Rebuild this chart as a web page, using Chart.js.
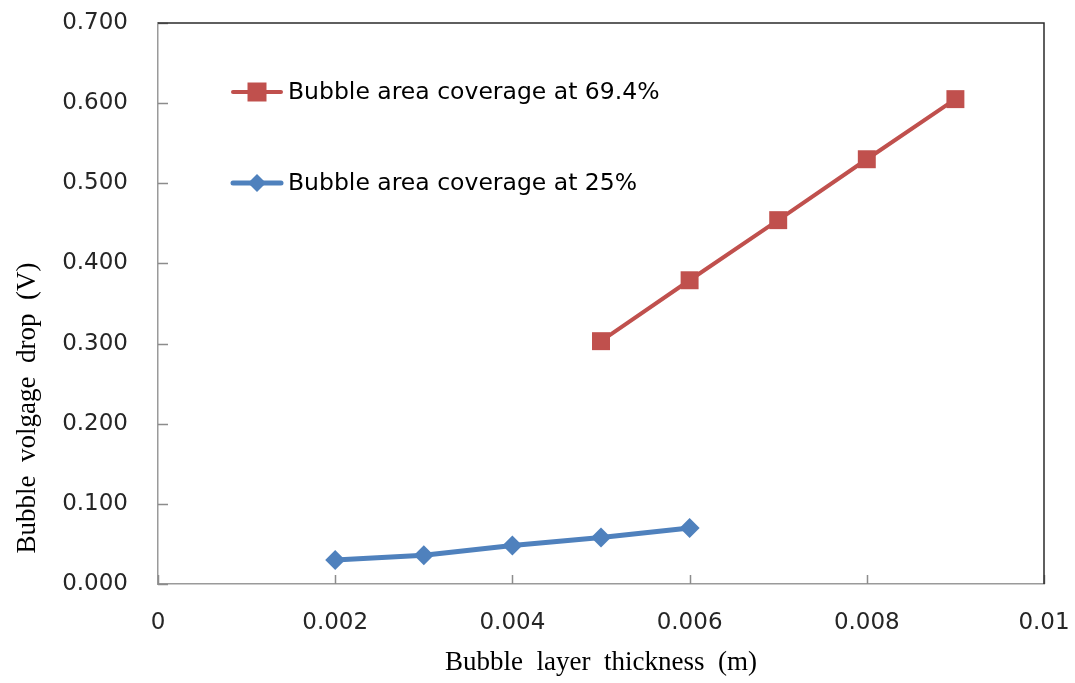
<!DOCTYPE html>
<html>
<head>
<meta charset="utf-8">
<script src="https://cdn.jsdelivr.net/npm/chart.js@4"></script>
<style>
  html, body { margin: 0; padding: 0; background: #ffffff; }
  #wrap { width: 1075px; height: 683px; position: relative; }
</style>
</head>
<body>
<div id="wrap"><canvas id="chart" width="1075" height="683"></canvas></div>
<script>
// Bubble layer thickness (m)
const thickness69 = [0.005, 0.006, 0.007, 0.008, 0.009];
const thickness25 = [0.002, 0.003, 0.004, 0.005, 0.006];
// Bubble voltage drop (V)
const drop69 = [0.303, 0.379, 0.454, 0.530, 0.605];
const drop25 = [0.030, 0.036, 0.048, 0.058, 0.070];

const seriesLabels = ['Bubble area coverage at 69.4%', 'Bubble area coverage at 25%'];
const xTickValues = [0, 0.002, 0.004, 0.006, 0.008, 0.01];
const xTickLabels = ['0', '0.002', '0.004', '0.006', '0.008', '0.01'];
const yTickValues = [0, 0.1, 0.2, 0.3, 0.4, 0.5, 0.6, 0.7];
const yTickLabels = ['0.000', '0.100', '0.200', '0.300', '0.400', '0.500', '0.600', '0.700'];
const xTitle = 'Bubble  layer  thickness  (m)';
const yTitle = 'Bubble  volgage  drop  (V)';

const RED = '#C0504D';
const BLUE = '#4F81BD';
const SANS = '"DejaVu Sans", Verdana, sans-serif';
const SERIF = '"Liberation Serif", "Times New Roman", serif';

const toPoints = (xs, ys) => xs.map((x, i) => ({ x: x, y: ys[i] }));

// Frame: dark top/right edges, inner tick marks, rotated y title and the in-plot legend
const framePlugin = {
  id: 'frame',
  afterDraw(chart) {
    const ctx = chart.ctx;
    const a = chart.chartArea;
    const xs = chart.scales.x, ys = chart.scales.y;
    ctx.save();

    // inner tick marks
    ctx.strokeStyle = '#8c8c8c';
    ctx.lineWidth = 1.5;
    ctx.beginPath();
    ys.ticks.forEach((t, i) => {
      const py = Math.round(ys.getPixelForTick(i)) + 0.5;
      ctx.moveTo(a.left, py); ctx.lineTo(a.left + 10, py);
    });
    xs.ticks.forEach((t, i) => {
      const px = Math.round(xs.getPixelForTick(i)) + 0.5;
      ctx.moveTo(px, a.bottom); ctx.lineTo(px, a.bottom - 9);
    });
    ctx.stroke();

    // top and right edges
    ctx.strokeStyle = '#2b2b2b';
    ctx.lineWidth = 1.5;
    ctx.beginPath();
    ctx.moveTo(a.left, a.top); ctx.lineTo(a.right, a.top); ctx.lineTo(a.right, a.bottom);
    ctx.stroke();

    // y axis title
    ctx.fillStyle = '#000';
    ctx.font = '27px ' + SERIF;
    ctx.textAlign = 'center';
    ctx.textBaseline = 'middle';
    ctx.translate(28, 408);
    ctx.rotate(-Math.PI / 2);
    ctx.fillText(yTitle, 0, 0);
    ctx.setTransform(1, 0, 0, 1, 0, 0);

    // legend
    const rows = [
      { ds: chart.data.datasets[0], y: 92 },
      { ds: chart.data.datasets[1], y: 183 }
    ];
    rows.forEach(r => {
      const ds = r.ds;
      ctx.strokeStyle = ds.borderColor;
      ctx.lineWidth = ds.borderWidth;
      ctx.lineCap = 'round';
      ctx.beginPath();
      ctx.moveTo(233, r.y); ctx.lineTo(281, r.y);
      ctx.stroke();
      ctx.fillStyle = ds.pointBackgroundColor;
      ctx.beginPath();
      if (ds.pointStyle === 'rect') {
        ctx.rect(257 - 9.5, r.y - 9.5, 19, 19);
      } else {
        ctx.moveTo(257 - 9, r.y); ctx.lineTo(257, r.y - 9);
        ctx.lineTo(257 + 9, r.y); ctx.lineTo(257, r.y + 9);
        ctx.closePath();
      }
      ctx.fill();
      ctx.fillStyle = '#000';
      ctx.font = '23.5px ' + SANS;
      ctx.textAlign = 'left';
      ctx.textBaseline = 'middle';
      ctx.fillText(ds.label, 288, r.y + 1);
    });
    ctx.restore();
  }
};

new Chart(document.getElementById('chart'), {
  type: 'line',
  data: {
    datasets: [
      {
        label: seriesLabels[0],
        data: toPoints(thickness69, drop69),
        borderColor: RED,
        backgroundColor: RED,
        borderWidth: 4,
        pointStyle: 'rect',
        pointRadius: 12.7,
        pointBackgroundColor: RED,
        pointBorderWidth: 0,
        tension: 0
      },
      {
        label: seriesLabels[1],
        data: toPoints(thickness25, drop25),
        borderColor: BLUE,
        backgroundColor: BLUE,
        borderWidth: 5,
        pointStyle: 'rectRot',
        pointRadius: 10,
        pointBackgroundColor: BLUE,
        pointBorderWidth: 0,
        tension: 0
      }
    ]
  },
  options: {
    responsive: false,
    animation: false,
    events: [],
    layout: { padding: { top: 23, right: 31, left: 0, bottom: 0 } },
    plugins: {
      legend: { display: false },
      tooltip: { enabled: false }
    },
    scales: {
      x: {
        type: 'linear',
        min: 0,
        max: 0.01,
        afterBuildTicks(scale) { scale.ticks = xTickValues.map(v => ({ value: v })); },
        afterFit(scale) { scale.height = 99; scale.paddingLeft = 0; scale.paddingRight = 0; },
        grid: { display: false, drawTicks: false },
        border: { display: true, color: '#9a9a9a', width: 1.5 },
        ticks: {
          padding: 25,
          color: '#262626',
          font: { family: SANS, size: 23 },
          maxRotation: 0,
          callback: (v, i) => xTickLabels[i]
        },
        title: {
          display: true,
          text: xTitle,
          color: '#000',
          font: { family: SERIF, size: 27 },
          padding: { top: 0, bottom: 4 }
        }
      },
      y: {
        min: 0,
        max: 0.7,
        afterBuildTicks(scale) { scale.ticks = yTickValues.map(v => ({ value: v })); },
        afterFit(scale) { scale.width = 158; scale.paddingTop = 0; scale.paddingBottom = 0; },
        grid: { display: false, drawTicks: false },
        border: { display: true, color: '#9a9a9a', width: 1.5 },
        ticks: {
          padding: 30,
          color: '#262626',
          font: { family: SANS, size: 23 },
          callback: (v, i) => yTickLabels[i]
        }
      }
    }
  },
  plugins: [framePlugin]
});
</script>
</body>
</html>
